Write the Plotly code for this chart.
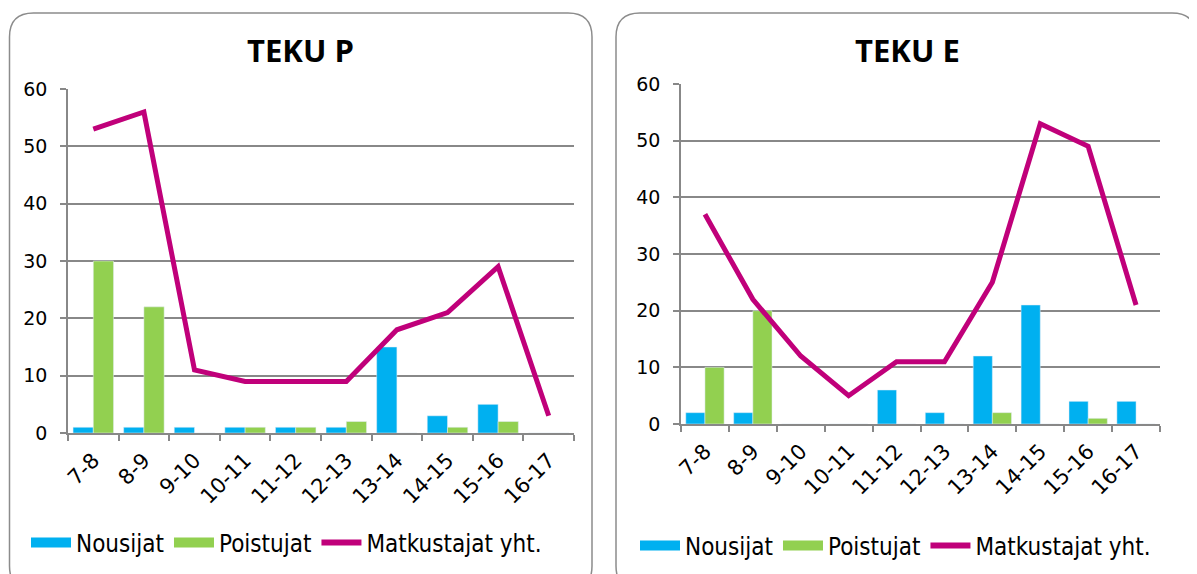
import plotly.graph_objects as go

W, H = 1197, 574
OFF = 8  # the page body has an 8px margin, so the figure is drawn 8px in

hours = ["7-8", "8-9", "9-10", "10-11", "11-12", "12-13", "13-14", "14-15", "15-16", "16-17"]

p_nousijat = [1, 1, 1, 1, 1, 1, 15, 3, 5, 0]
p_poistujat = [30, 22, 0, 1, 1, 2, 0, 1, 2, 0]
p_yht = [53, 56, 11, 9, 9, 9, 18, 21, 29, 3]

e_nousijat = [2, 2, 0, 0, 6, 2, 12, 21, 4, 4]
e_poistujat = [10, 20, 0, 0, 0, 0, 2, 0, 1, 0]
e_yht = [37, 22, 12, 5, 11, 11, 25, 53, 49, 21]

BLUE = "#00B0F0"
GREEN = "#92D050"
MAGENTA = "#C0007A"
GRID = "#888888"
FONT = "DejaVu Sans"

FW, FH = W - OFF, H - OFF


def px_x(x):
    return (x - OFF) / FW


def px_y(y):
    return 1 - (y - OFF) / FH


def rounded_box(x0, y0, x1, y1, r):
    # path in paper coords, built from pixel corners
    X0, X1 = px_x(x0), px_x(x1)
    Y0, Y1 = px_y(y0), px_y(y1)
    rx, ry = r / FW, r / FH
    return (
        f"M {X0 + rx},{Y0} L {X1 - rx},{Y0} Q {X1},{Y0} {X1},{Y0 - ry} "
        f"L {X1},{Y1 + ry} Q {X1},{Y1} {X1 - rx},{Y1} "
        f"L {X0 + rx},{Y1} Q {X0},{Y1} {X0},{Y1 + ry} "
        f"L {X0},{Y0 - ry} Q {X0},{Y0} {X0 + rx},{Y0} Z"
    )


fig = go.Figure()

panels = [
    ("x", "y", "legend", p_nousijat, p_poistujat, p_yht),
    ("x2", "y2", "legend2", e_nousijat, e_poistujat, e_yht),
]

for xa, ya, lg, nous, pois, yht in panels:
    fig.add_trace(go.Bar(x=hours, y=nous, marker_color=BLUE, xaxis=xa, yaxis=ya,
                         showlegend=False, name="Nousijat"))
    fig.add_trace(go.Bar(x=hours, y=pois, marker_color=GREEN, xaxis=xa, yaxis=ya,
                         showlegend=False, name="Poistujat"))
    fig.add_trace(go.Scatter(x=hours, y=yht, mode="lines", xaxis=xa, yaxis=ya,
                             line=dict(color=MAGENTA, width=5), showlegend=False,
                             name="Matkustajat yht."))
    # legend entries drawn as thick strokes like the original
    fig.add_trace(go.Scatter(x=[None], y=[None], mode="lines", xaxis=xa, yaxis=ya,
                             line=dict(color=BLUE, width=11), name="Nousijat", legend=lg))
    fig.add_trace(go.Scatter(x=[None], y=[None], mode="lines", xaxis=xa, yaxis=ya,
                             line=dict(color=GREEN, width=11), name="Poistujat", legend=lg))
    fig.add_trace(go.Scatter(x=[None], y=[None], mode="lines", xaxis=xa, yaxis=ya,
                             line=dict(color=MAGENTA, width=6), name="Matkustajat yht.",
                             legend=lg))

xaxis_style = dict(
    type="category",
    range=[-0.5, 9.5],
    tickson="boundaries",
    ticks="outside",
    ticklen=6,
    tickwidth=1.5,
    tickcolor=GRID,
    tickangle=-45,
    ticklabelstandoff=5,
    showline=True,
    linecolor=GRID,
    linewidth=1.5,
    showgrid=False,
    tickfont=dict(family=FONT, size=21, color="black"),
    fixedrange=True,
)
yaxis_style = dict(
    range=[0, 60],
    dtick=10,
    ticks="outside",
    ticklen=6,
    tickwidth=1.5,
    tickcolor=GRID,
    ticklabelstandoff=9,
    showline=True,
    linecolor=GRID,
    linewidth=1.5,
    showgrid=True,
    gridcolor=GRID,
    gridwidth=1.5,
    zeroline=False,
    tickfont=dict(family=FONT, size=19, color="black"),
    fixedrange=True,
)

legend_style = dict(
    orientation="h",
    yanchor="middle",
    xanchor="left",
    font=dict(family="DejaVu Sans Condensed", size=24, color="black"),
    bgcolor="rgba(0,0,0,0)",
    itemwidth=40,
    tracegroupgap=0,
)

fig.update_layout(
    width=FW,
    height=FH,
    margin=dict(l=0, r=0, t=0, b=0, autoexpand=False),
    paper_bgcolor="white",
    plot_bgcolor="white",
    barmode="group",
    bargap=0.2,
    bargroupgap=0,
    xaxis=dict(xaxis_style, domain=[px_x(68), px_x(574)], anchor="y"),
    yaxis=dict(yaxis_style, domain=[px_y(433), px_y(89)], anchor="x"),
    xaxis2=dict(xaxis_style, domain=[px_x(681), px_x(1160)], anchor="y2"),
    yaxis2=dict(yaxis_style, domain=[px_y(424), px_y(84)], anchor="x2"),
    legend=dict(legend_style, x=px_x(26), y=px_y(543)),
    legend2=dict(legend_style, x=px_x(635), y=px_y(546)),
    shapes=[
        dict(type="path", xref="paper", yref="paper",
             path=rounded_box(9.5, 13, 592, 590, 24),
             line=dict(color="#8C8C8C", width=1.5), layer="below"),
        dict(type="path", xref="paper", yref="paper",
             path=rounded_box(616, 13, 1196, 590, 24),
             line=dict(color="#8C8C8C", width=1.5), layer="below"),
    ],
    annotations=[
        dict(text="<b>TEKU P</b>", x=px_x(300), y=px_y(50), xref="paper", yref="paper",
             xanchor="center", yanchor="middle", showarrow=False,
             font=dict(family="Open Sans", size=31, color="black")),
        dict(text="<b>TEKU E</b>", x=px_x(907), y=px_y(50), xref="paper", yref="paper",
             xanchor="center", yanchor="middle", showarrow=False,
             font=dict(family="Open Sans", size=31, color="black")),
    ],
)

fig.write_html("out.html")
